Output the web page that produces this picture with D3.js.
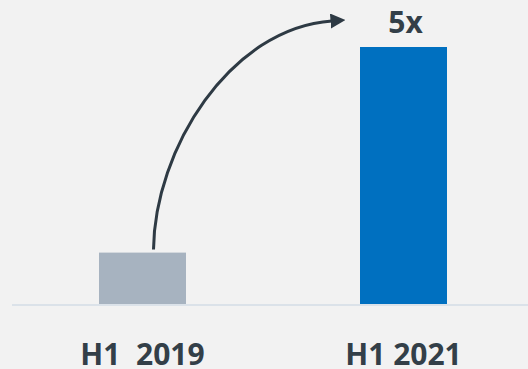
<!DOCTYPE html>
<html>
<head>
<meta charset="utf-8">
<script src="https://cdn.jsdelivr.net/npm/d3@7/dist/d3.min.js"></script>
<style>
  html, body { margin: 0; padding: 0; background: #f2f2f2; }
  svg { display: block; }
  text { font-family: "Open Sans", Lato, sans-serif; font-weight: 700; fill: #333f48; }
</style>
</head>
<body>
<svg id="chart" width="528" height="369"></svg>
<script>
// Half-year periods compared and their relative volume (H1 2019 = 1)
const periods = ["H1  2019", "H1 2021"];
const values = [1, 5];
const barColors = ["#a7b3c0", "#0070c0"];
const growthLabel = "5x";

const W = 528, H = 369;
const svg = d3.select("#chart");

const x = d3.scaleBand()
  .domain(periods)
  .range([12, 534])
  .paddingInner(2 / 3)
  .paddingOuter(1 / 3);

const y = d3.scaleLinear()
  .domain([0, 5])
  .range([304, 47]);

// baseline
svg.append("line")
  .attr("x1", 12).attr("x2", W)
  .attr("y1", y(0) + 1).attr("y2", y(0) + 1)
  .attr("stroke", "#dbe2e9")
  .attr("stroke-width", 2);

// bars
svg.selectAll("rect.bar")
  .data(periods)
  .join("rect")
  .attr("class", "bar")
  .attr("x", d => x(d))
  .attr("width", x.bandwidth())
  .attr("y", (d, i) => y(values[i]))
  .attr("height", (d, i) => y(0) - y(values[i]))
  .attr("fill", (d, i) => barColors[i]);

// category labels
svg.selectAll("text.cat")
  .data(periods)
  .join("text")
  .attr("class", "cat")
  .attr("x", d => x(d) + x.bandwidth() / 2)
  .attr("y", 365)
  .attr("text-anchor", "middle")
  .attr("font-size", 30)
  .style("white-space", "pre")
  .attr("xml:space", "preserve")
  .text(d => d);

// growth label above the second bar
svg.append("text")
  .attr("x", x(periods[1]) + x.bandwidth() / 2 + 2)
  .attr("y", y(values[1]) - 14)
  .attr("text-anchor", "middle")
  .attr("font-size", 30)
  .text(growthLabel);

// curved arrow from the first bar to the growth label
const defs = svg.append("defs");
defs.append("marker")
  .attr("id", "head")
  .attr("viewBox", "0 0 10 10")
  .attr("refX", 1).attr("refY", 5)
  .attr("markerWidth", 5).attr("markerHeight", 5)
  .attr("markerUnits", "strokeWidth")
  .attr("orient", "auto")
  .append("path")
  .attr("d", "M0,0 L10,5 L0,10 Z")
  .attr("fill", "#2e3a44");

const sx = x(periods[0]) + x.bandwidth() / 2 + 11;
const sy = y(values[0]) - 3;
const ex = x(periods[1]) - 28;
const ey = y(values[1]) - 26;
const p = d3.path();
p.moveTo(sx, sy);
p.bezierCurveTo(sx + 1, sy - 100, ex - 102, ey + 7, ex, ey);
svg.append("path")
  .attr("d", p.toString())
  .attr("fill", "none")
  .attr("stroke", "#2e3a44")
  .attr("stroke-width", 3)
  .attr("marker-end", "url(#head)");
</script>
</body>
</html>
